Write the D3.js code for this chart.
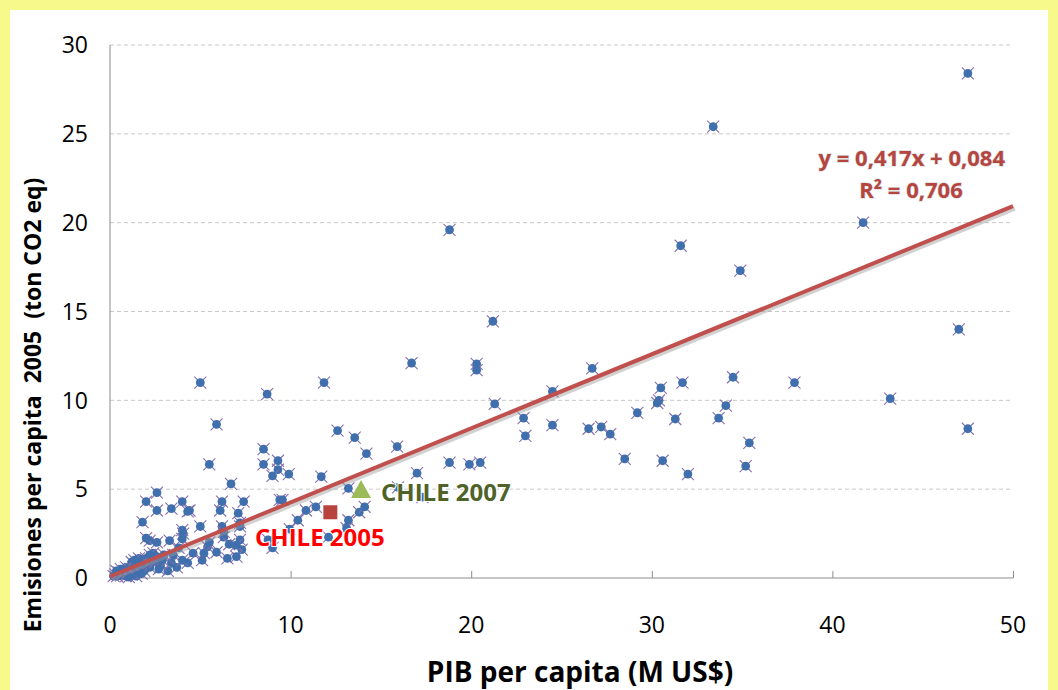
<!DOCTYPE html>
<html>
<head>
<meta charset="utf-8">
<script src="https://cdn.jsdelivr.net/npm/d3@7"></script>
<style>
  html, body { margin: 0; padding: 0; background: #F7F98B; }
  svg { display: block; }
  text { font-family: "Open Sans", Lato, sans-serif; }
</style>
</head>
<body>
<svg id="chart" width="1058" height="690"></svg>
<script>
// ---------- data ----------
const xTicks = [0, 10, 20, 30, 40, 50];
const yTicks = [0, 5, 10, 15, 20, 25, 30];

// PIB per capita (M US$)
const gdp = [
  47.5, 33.4, 18.8, 41.7, 31.6, 34.9, 21.2, 16.7, 20.3, 20.3, 47.0, 47.5, 43.2, 37.9, 34.5, 31.7, 30.5, 30.4, 30.3, 24.5,
  21.3, 22.9, 29.2, 31.3, 34.1, 33.7, 35.4, 35.2, 24.5, 23.0, 26.5, 27.2, 27.7, 26.7, 28.5, 30.6, 32.0, 18.8, 19.9, 20.5,
  17.0, 17.3, 15.9, 14.2, 13.55, 12.6, 11.85, 8.7, 5.0, 5.9, 5.5, 11.7, 15.95,
  8.5, 8.5, 9.3, 9.3, 9.0, 9.9, 6.7, 4.0, 4.4, 4.3, 3.4, 6.2, 6.1, 7.4, 7.1, 9.4, 9.55, 11.4, 10.85, 10.4, 9.95, 5.0,
  6.2, 7.2, 4.0, 4.05, 13.2, 13.8, 14.1, 13.2, 13.1, 12.1, 7.2, 7.2, 8.75, 9.0, 7.3, 2.6, 2.0, 2.6, 1.8, 2.2, 2.6, 3.3,
  4.0, 4.6, 3.8, 5.4, 5.5, 6.3, 6.3, 6.6, 5.9, 6.5, 5.1, 4.3, 3.2, 3.4, 3.7, 4.0, 5.2, 7.0, 7.0, 2.0,
  0.2, 0.3, 0.4, 0.5, 0.6, 0.7, 0.8, 0.9, 1.0, 1.1, 1.2, 1.3, 1.4, 1.5, 1.6, 1.7, 1.8, 1.9, 2.0, 2.1,
  2.2, 2.3, 2.5, 2.6, 2.8, 3.0, 1.2, 0.9, 1.6, 2.4, 2.9, 0.35, 1.05, 1.45, 1.75, 2.2, 2.7, 3.5, 0.6, 1.35
];
// Emisiones per capita 2005 (ton CO2 eq)
const emis = [
  28.4, 25.4, 19.6, 20.0, 18.7, 17.3, 14.45, 12.1, 12.05, 11.7, 14.0, 8.4, 10.1, 11.0, 11.3, 11.0, 10.7, 10.0, 9.85, 10.5,
  9.8, 9.0, 9.3, 8.95, 9.7, 9.0, 7.6, 6.3, 8.6, 8.0, 8.4, 8.5, 8.1, 11.8, 6.7, 6.6, 5.85, 6.5, 6.4, 6.5,
  5.9, 4.55, 7.4, 7.0, 7.9, 8.3, 11.0, 10.35, 11.0, 8.65, 6.4, 5.7, 5.1,
  7.25, 6.4, 6.6, 6.1, 5.75, 5.85, 5.3, 4.3, 3.8, 3.75, 3.9, 4.3, 3.8, 4.3, 3.65, 4.4, 4.4, 4.0, 3.8, 3.25, 2.75, 2.9,
  2.9, 2.9, 2.7, 2.5, 5.05, 3.7, 4.0, 3.25, 2.8, 2.3, 3.1, 2.15, 2.15, 1.7, 1.6, 4.8, 4.3, 3.8, 3.15, 2.1, 2.0, 2.1,
  2.2, 1.4, 1.7, 1.75, 2.0, 2.3, 2.6, 1.9, 1.45, 1.1, 1.0, 0.85, 0.4, 0.85, 0.6, 1.0, 1.4, 1.2, 1.85, 2.25,
  0.1, 0.2, 0.1, 0.3, 0.15, 0.2, 0.4, 0.1, 0.3, 0.5, 0.2, 0.6, 0.35, 0.8, 0.5, 1.0, 0.7, 0.4, 1.1, 0.8,
  0.6, 1.0, 0.9, 1.2, 0.7, 1.3, 0.9, 0.6, 1.1, 1.4, 1.0, 0.4, 0.05, 0.1, 0.25, 1.3, 0.5, 1.3, 0.5, 1.0
];

// Chile highlights
const chileLabels = ["CHILE 2005", "CHILE 2007"];
const chileGdp = [12.2, 13.9];
const chileEmis = [3.7, 4.95];

// Linear trend
const slope = 0.417;
const intercept = 0.084;
const trendLabels = ["y = 0,417x + 0,084", "R² = 0,706"];

const xTitle = "PIB per capita (M US$)";
const yTitle = "Emisiones per capita  2005  (ton CO2 eq)";

// ---------- drawing ----------
const svg = d3.select("#chart");
const W = 1058, H = 690;

// white chart area on yellow frame
svg.append("rect").attr("x", 0).attr("y", 0).attr("width", W).attr("height", H).attr("fill", "#F7F98B");
svg.append("rect").attr("x", 10).attr("y", 10).attr("width", 1038).attr("height", H - 10).attr("fill", "#FFFFFF");

const x = d3.scaleLinear().domain([0, 50]).range([110, 1013]);
const y = d3.scaleLinear().domain([0, 30]).range([578, 45]);

// gridlines
svg.append("g").selectAll("line").data(yTicks.filter(d => d > 0)).join("line")
  .attr("x1", x(0)).attr("x2", x(50))
  .attr("y1", d => y(d)).attr("y2", d => y(d))
  .attr("stroke", "#C8C8C8").attr("stroke-width", 1).attr("stroke-dasharray", "4,3");

// axes
const xAxis = d3.axisBottom(x).tickValues(xTicks).tickSize(-7).tickPadding(0).tickFormat("");
const gx = svg.append("g").attr("transform", `translate(0,${y(0)})`).call(xAxis);
gx.select(".domain").attr("stroke", "#8C8C8C").attr("d", `M${x(0)},0H${x(50)}`);
gx.selectAll(".tick line").attr("stroke", "#8C8C8C");

const yAxis = d3.axisLeft(y).tickValues(yTicks).tickSize(0).tickFormat("");
const gy = svg.append("g").attr("transform", `translate(${x(0)},0)`).call(yAxis);
gy.select(".domain").attr("stroke", "#8C8C8C").attr("d", `M0,${y(30)}V${y(0)}`);

// tick labels
svg.append("g").selectAll("text").data(yTicks).join("text")
  .attr("x", 88).attr("y", d => y(d)).attr("dy", "0.36em")
  .attr("text-anchor", "end").attr("font-size", 23).attr("fill", "#000")
  .text(d => d);
svg.append("g").selectAll("text").data(xTicks).join("text")
  .attr("x", d => x(d)).attr("y", 625).attr("dy", "0.36em")
  .attr("text-anchor", "middle").attr("font-size", 23).attr("fill", "#000")
  .text(d => d);

// axis titles
svg.append("text").attr("x", 580).attr("y", 672).attr("dy", "0.36em")
  .attr("text-anchor", "middle").attr("font-size", 28).attr("font-weight", "bold")
  .attr("fill", "#000").text(xTitle);
svg.append("text").attr("transform", `translate(33,${(165 + 645) / 2}) rotate(-90)`)
  .attr("dy", "0.36em").attr("text-anchor", "middle").attr("font-size", 23)
  .attr("font-weight", "bold").attr("fill", "#000").style("white-space", "pre").text(yTitle);

// scatter points
const pts = gdp.map((g, i) => [g, emis[i]]);
const pg = svg.append("g");
const mk = pg.selectAll("g").data(pts).join("g")
  .attr("transform", d => `translate(${x(d[0])},${y(d[1])})`);
mk.append("path").attr("d", "M-6,-6L6,6M-6,6L6,-6")
  .attr("stroke", "#8670AE").attr("stroke-width", 1.1).attr("fill", "none");
mk.append("circle").attr("r", 4.4).attr("fill", "#3F6FAD");

// trend line with shadow
const tl = [0, 50];
svg.append("line")
  .attr("x1", x(tl[0]) + 2).attr("y1", y(slope * tl[0] + intercept) + 2.5)
  .attr("x2", x(tl[1]) + 2).attr("y2", y(slope * tl[1] + intercept) + 2.5)
  .attr("stroke", "#9A9A9A").attr("stroke-opacity", 0.45).attr("stroke-width", 4);
svg.append("line")
  .attr("x1", x(tl[0])).attr("y1", y(slope * tl[0] + intercept))
  .attr("x2", x(tl[1])).attr("y2", y(slope * tl[1] + intercept))
  .attr("stroke", "#C0504D").attr("stroke-width", 4);

// trend equation
svg.append("text").attr("x", 1005).attr("y", 158).attr("dy", "0.36em")
  .attr("text-anchor", "end").attr("font-size", 22).attr("font-weight", "bold")
  .attr("fill", "#B5453F").style("paint-order", "stroke")
  .attr("stroke", "rgba(120,120,120,0.25)").attr("stroke-width", 1.5)
  .text(trendLabels[0]);
svg.append("text").attr("x", 911).attr("y", 190).attr("dy", "0.36em")
  .attr("text-anchor", "middle").attr("font-size", 22).attr("font-weight", "bold")
  .attr("fill", "#B5453F").style("paint-order", "stroke")
  .attr("stroke", "rgba(120,120,120,0.25)").attr("stroke-width", 1.5)
  .text(trendLabels[1]);

// Chile 2005 square
svg.append("rect")
  .attr("x", x(chileGdp[0]) - 7).attr("y", y(chileEmis[0]) - 7)
  .attr("width", 14).attr("height", 14).attr("fill", "#B9433F");
// Chile 2007 triangle
const tx = x(chileGdp[1]), ty = y(chileEmis[1]);
svg.append("path")
  .attr("d", `M${tx},${ty - 10}L${tx + 10},${ty + 8}L${tx - 10},${ty + 8}Z`)
  .attr("fill", "#9BBB59");

// Chile labels
svg.append("text").attr("x", 255).attr("y", 537).attr("dy", "0.36em")
  .attr("font-size", 24).attr("font-weight", "bold").attr("fill", "#FF0000")
  .style("paint-order", "stroke").attr("stroke", "#FFFFFF").attr("stroke-width", 2)
  .text(chileLabels[0]);
svg.append("text").attr("x", 381).attr("y", 492).attr("dy", "0.36em")
  .attr("font-size", 24).attr("font-weight", "bold").attr("fill", "#4F6228")
  .style("paint-order", "stroke").attr("stroke", "#FFFFFF").attr("stroke-width", 2)
  .text(chileLabels[1]);
</script>
</body>
</html>
